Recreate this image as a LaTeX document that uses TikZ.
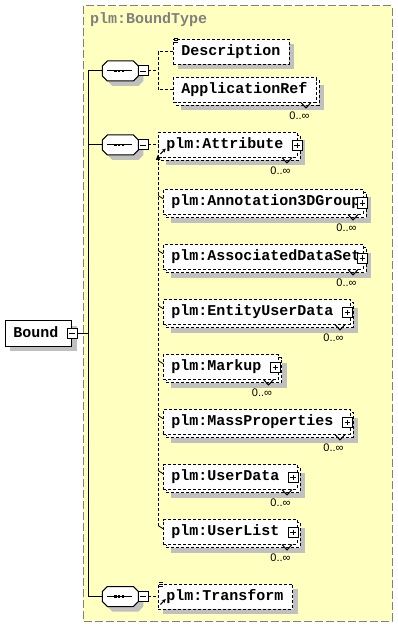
\documentclass[tikz,border=0pt]{standalone}
\usepackage{fontspec}
\setmonofont{Liberation Mono}
\newfontfamily\occfont{Liberation Sans}
\usetikzlibrary{arrows.meta}
\definecolor{bgyellow}{RGB}{255,255,192}
\definecolor{shadegray}{RGB}{192,192,192}
\definecolor{framegray}{RGB}{128,128,128}

\newcommand\elmulti[5]{% name, x1, y1, x2, text
  \fill[shade] ({#2+8},{#3+8}) rectangle ({#4+8},{#3+33});
  \draw[dbox] ({#2+3},{#3+3}) rectangle ({#4+3},{#3+28});
  \node[dbox,anchor=north west,minimum width={(#4-#2)*0.75pt},minimum height=18.75pt] (#1) at (#2,#3) {};
  \node[elt,anchor=base west] (#1-t) at ({#2+8},{#3+16}) {#5};
  \draw[sline] ({#4-15},{#3+25}) -- ({#4-10},{#3+30.5}) -- ({#4-5},{#3+25});
  \node[occ] (#1-o) at ({#4-16.5},{#3+38}) {0..∞};
}
\newcommand\elsingle[5]{% name, x1, y1, x2, text
  \fill[shade] ({#2+5},{#3+5}) rectangle ({#4+5},{#3+30});
  \node[dbox,anchor=north west,minimum width={(#4-#2)*0.75pt},minimum height=18.75pt] (#1) at (#2,#3) {};
  \node[elt,anchor=base west] (#1-t) at ({#2+8},{#3+16}) {#5};
}
\newcommand\docicon[2]{% x1, y1
  \draw[line width=0.6pt] ({#1+1},{#2-1.5}) -- ({#1+5},{#2-1.5})
    ({#1+1},{#2+0.5}) -- ({#1+5},{#2+0.5})
    ({#1+1},{#2+2.5}) -- ({#1+5},{#2+2.5});
}
\newcommand\reficon[2]{% x1, y1
  \draw[line width=0.75pt,-{Stealth[length=3pt,width=3pt]}] ({#1+2},{#2+21.5}) -- ({#1+7.5},{#2+16});
}
\newcommand\seqnode[2]{% name, cy
  \begin{scope}[shift={(0,#2)}]
    \fill[shade] (107.3,0) -- (112.3,-5) -- (138.3,-5) -- (143.3,0) -- (143.3,10) -- (138.3,15) -- (112.3,15) -- (107.3,10) -- cycle;
    \draw[sbox] (102.3,-5) -- (107.3,-10) -- (133.3,-10) -- (138.3,-5) -- (138.3,5) -- (133.3,10) -- (107.3,10) -- (102.3,5) -- cycle;
    \coordinate (#1) at (102.3,0);
    \draw[line width=0.75pt] (106.5,0) -- (131.5,0);
    \fill (114.3,-1.4) rectangle (116.6,1.4);
    \fill (118,-1.4) rectangle (120.3,1.4);
    \fill (121.7,-1.4) rectangle (124,1.4);
    \node[mbtn] (#1-m) at (143,0) {};
  \end{scope}
}

\begin{document}
\begin{tikzpicture}[x=0.75pt,y=-0.75pt,
  dbox/.style={draw=black,line width=0.75pt,dash pattern=on 2.25pt off 1.5pt,fill=white,outer sep=0pt,inner sep=0pt},
  sbox/.style={draw=black,line width=0.75pt,fill=white,outer sep=0pt,inner sep=0pt},
  shade/.style={fill=shadegray},
  elt/.style={font={\fontsize{11.25pt}{12pt}\selectfont\ttfamily\bfseries},inner sep=0pt,outer sep=0pt},
  occ/.style={font={\fontsize{8.25pt}{9pt}\selectfont\occfont},inner sep=0pt},
  dline/.style={line width=0.75pt,dash pattern=on 2.25pt off 1.5pt},
  sline/.style={line width=0.75pt},
  mbtn/.style={sbox,minimum size=7.5pt,
    path picture={\draw[line width=0.6pt] ([xshift=1.6pt]path picture bounding box.west) -- ([xshift=-1.6pt]path picture bounding box.east);}},
  pbtn/.style={sbox,minimum size=7.5pt,
    path picture={\draw[line width=0.6pt] ([xshift=1.6pt]path picture bounding box.west) -- ([xshift=-1.6pt]path picture bounding box.east)
      ([yshift=-1.6pt]path picture bounding box.north) -- ([yshift=1.6pt]path picture bounding box.south);}}
]
\useasboundingbox (0,0) rectangle (398,627);
\fill[white] (0,0) rectangle (398,627);

% complex type frame
\draw[draw=framegray,fill=bgyellow,line width=0.75pt,dash pattern=on 6pt off 2.25pt] (83,6) rectangle (392,621);
\node[elt,text=framegray,anchor=base west] (title) at (90,24) {plm:BoundType};

% root element
\fill[shade] (10.3,325.7) rectangle (76.7,351);
\node[sbox,anchor=north west,minimum width=49.8pt,minimum height=18.98pt] (bound) at (5.3,320.7) {};
\node[elt,anchor=base west] (bound-t) at (13.3,337) {Bound};
\node[mbtn] (bound-m) at (72,333.3) {};

% sequences
\seqnode{seq1}{71}
\seqnode{seq2}{145}
\seqnode{seq3}{596.5}

% spine
\coordinate (spb) at (88,333.3);
\coordinate (sp1) at (88,71);
\coordinate (sp2) at (88,145);
\coordinate (sp3) at (88,596.5);
\draw[sline] (bound-m.east) -- (spb);
\draw[sline] (sp1) -- (sp3);
\draw[sline] (sp1) -- (seq1);
\draw[sline] (sp2) -- (seq2);
\draw[sline] (sp3) -- (seq3);

% sequence 1 children
\elsingle{desc}{173.3}{39.5}{289.3}{Description}
\docicon{173.3}{39.5}
\elmulti{appref}{173.3}{77.5}{316}{ApplicationRef}
\coordinate (c1) at (158,71);
\draw[dline] (seq1-m.east) -- (c1);
\draw[dline] (desc.west) -| (c1) |- (appref.west);

% sequence 2: substitution group
\elmulti{attr}{158.3}{132.5}{297}{plm:Attribute}
\node[pbtn] (attr-p) at (297,145.5) {};
\reficon{158.3}{132.5}
\draw[dline] (seq2-m.east) -- (attr.west);

\elmulti{ann}{163.3}{189.5}{363}{plm:Annotation3DGroup}
\node[pbtn] (ann-p) at (362.5,203) {};
\elmulti{ads}{163.3}{244.5}{363}{plm:AssociatedDataSet}
\node[pbtn] (ads-p) at (362.5,258) {};
\elmulti{eud}{163.3}{299.5}{350}{plm:EntityUserData}
\node[pbtn] (eud-p) at (347.5,312.5) {};
\elmulti{mkp}{163.3}{354.5}{278.5}{plm:Markup}
\node[pbtn] (mkp-p) at (275.5,367.5) {};
\elmulti{mp}{163.3}{409.5}{350}{plm:MassProperties}
\node[pbtn] (mp-p) at (347.5,422.5) {};
\elmulti{ud}{163.3}{464.5}{297}{plm:UserData}
\node[pbtn] (ud-p) at (293,477.5) {};
\elmulti{ul}{163.3}{519.5}{297}{plm:UserList}
\node[pbtn] (ul-p) at (293,532.5) {};

\coordinate (sub-top) at (158,154.5);
\coordinate (sub-bot) at (158,525.5);
\draw[dline,-{Triangle[length=4pt,width=3pt]}] (sub-bot) -- (sub-top);
\foreach \m/\yy in {ann/189.5,ads/244.5,eud/299.5,mkp/354.5,mp/409.5,ud/464.5} {
  \coordinate (tk-\m) at (158,\yy+6);
  \draw[line width=0.6pt] (tk-\m) -- ([yshift=-7pt]\m.north west);
}
\draw[line width=0.6pt] (sub-bot) -- ([yshift=-7pt]ul.north west);

% sequence 3
\elsingle{trans}{158.3}{584}{292.7}{plm:Transform}
\docicon{158.3}{584}
\reficon{158.3}{583}
\draw[dline] (seq3-m.east) -- (trans.west);
\end{tikzpicture}
\end{document}
